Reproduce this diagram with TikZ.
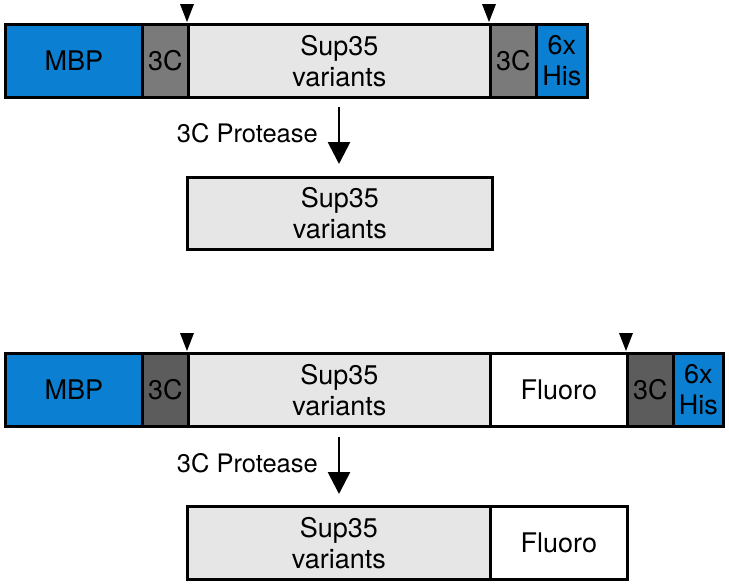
\documentclass[tikz,border=0pt]{standalone}
\usepackage{fontspec}
\setmainfont{TeX Gyre Heros}
\usetikzlibrary{arrows.meta}
\definecolor{mbpblue}{HTML}{0B80D3}
\definecolor{tcgray}{HTML}{7A7A7A}
\definecolor{tcdark}{HTML}{5C5C5C}
\definecolor{supgray}{HTML}{E6E6E6}
\tikzset{
  seg/.style={draw=black, line width=2.8pt, inner sep=0pt, anchor=north west,
    align=center, font=\fontsize{27}{31}\selectfont},
  mark3c/.style={fill=black},
  cleave/.style={line width=2.8pt, -{Triangle[width=22pt,length=22pt]}},
  lbl/.style={font=\fontsize{25.5}{28}\selectfont, anchor=east, inner sep=0pt}
}
\begin{document}
\begin{tikzpicture}[x=1pt,y=-1pt]
\useasboundingbox (0,0) rectangle (729,584);
% ---- top construct ----
\node[seg, fill=mbpblue, minimum width=137, minimum height=73] (m1) at (4,23) {MBP};
\node[seg, fill=tcgray, minimum width=46, minimum height=73] (c1a) at (141,23) {3C};
\node[seg, fill=supgray, minimum width=302, minimum height=73] (s1) at (187,23) {Sup35\\variants};
\node[seg, fill=tcgray, minimum width=46, minimum height=73] (c1b) at (489,23) {3C};
\node[seg, fill=mbpblue, minimum width=51, minimum height=73] (h1) at (535,23) {6x\\His};
\fill[mark3c] (180,4) -- (194,4) -- (187,22) -- cycle;
\fill[mark3c] (482,4) -- (496,4) -- (489,22) -- cycle;
% arrow 1
\coordinate (a1s) at (339,107);
\coordinate (a1e) at (339,164);
\draw[cleave] (a1s) -- (a1e);
\node[lbl] (p1) at (318,133) {3C Protease};
% product 1
\node[seg, fill=supgray, minimum width=305, minimum height=72] (r1) at (186,176) {Sup35\\variants};
% ---- bottom construct ----
\node[seg, fill=mbpblue, minimum width=137, minimum height=73] (m2) at (4,352) {MBP};
\node[seg, fill=tcdark, minimum width=46, minimum height=73] (c2a) at (141,352) {3C};
\node[seg, fill=supgray, minimum width=302, minimum height=73] (s2) at (187,352) {Sup35\\variants};
\node[seg, fill=white, minimum width=137, minimum height=73] (f2) at (489,352) {Fluoro};
\node[seg, fill=tcdark, minimum width=46, minimum height=73] (c2b) at (626,352) {3C};
\node[seg, fill=mbpblue, minimum width=50, minimum height=73] (h2) at (672,352) {6x\\His};
\fill[mark3c] (180,333) -- (194,333) -- (187,351) -- cycle;
\fill[mark3c] (619,333) -- (633,333) -- (626,351) -- cycle;
% arrow 2
\coordinate (a2s) at (339,437);
\coordinate (a2e) at (339,494);
\draw[cleave] (a2s) -- (a2e);
\node[lbl] (p2) at (318,463) {3C Protease};
% product 2
\node[seg, fill=supgray, minimum width=303, minimum height=73] (r2s) at (186,505) {Sup35\\variants};
\node[seg, fill=white, minimum width=137, minimum height=73] (r2f) at (489,505) {Fluoro};
\end{tikzpicture}
\end{document}
